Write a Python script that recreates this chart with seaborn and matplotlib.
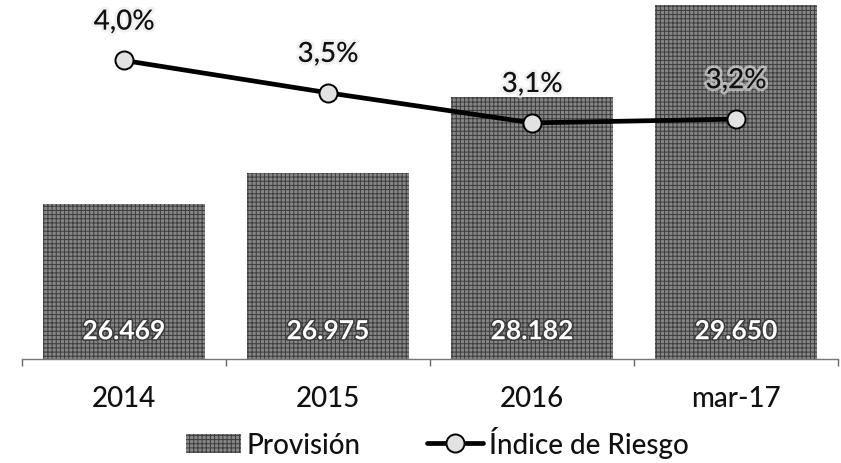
import numpy as np
import pandas as pd
import matplotlib
matplotlib.use("Agg")
import matplotlib.pyplot as plt
import matplotlib.patheffects as pe
from matplotlib.patches import Patch
from matplotlib.lines import Line2D
import seaborn as sns

# Data
categories = ["2014", "2015", "2016", "mar-17"]
provision = [26469, 26975, 28182, 29650]
indice_riesgo = [3.97, 3.54, 3.14, 3.19]

sns.set_theme(style="white")
plt.rcParams["font.family"] = ["Lato", "DejaVu Sans"]
plt.rcParams["hatch.linewidth"] = 0.7

BAR_FACE = "#868686"
BAR_HATCH = "#3c3c3c"

fig = plt.figure(figsize=(8.41, 4.64), dpi=100)
# axes extends slightly above the canvas so the top of the scale is cut off
ax = fig.add_axes([22 / 841, 104 / 464, 816 / 841, 376 / 464])

df = pd.DataFrame({"cat": categories, "prov": provision})
sns.barplot(data=df, x="cat", y="prov", order=categories, ax=ax,
            color=BAR_FACE, width=0.79, saturation=1)
for bar in ax.patches:
    bar.set_facecolor(BAR_FACE)
    bar.set_edgecolor(BAR_HATCH)
    bar.set_hatch("++++")
    bar.set_linewidth(0)

ax.set_ylim(24000, 30000)
ax.set_xlim(-0.5, len(categories) - 0.5)
ax.set_xlabel("")
ax.set_ylabel("")
ax.set_yticks([])
for s in ["top", "left", "right"]:
    ax.spines[s].set_visible(False)
ax.spines["bottom"].set_color("#777777")
ax.spines["bottom"].set_linewidth(1.0)

ax.tick_params(axis="x", which="major", length=0, pad=19, labelsize=20,
               labelcolor="#111111")
ax.set_xticks(list(np.arange(len(categories)) - 0.5) + [len(categories) - 0.5],
              minor=True)
ax.tick_params(axis="x", which="minor", length=5, width=1, color="#666666",
               direction="out", bottom=True)
for lbl in ax.get_xticklabels():
    lbl.set_fontweight("medium")

# value labels inside bars
for i, v in enumerate(provision):
    ax.annotate(f"{v:,}".replace(",", "."), xy=(i, 24000), xytext=(0, 20),
                textcoords="offset points", ha="center", va="center",
                fontsize=19, fontweight="bold", color="white",
                path_effects=[pe.withStroke(linewidth=2.2, foreground="#3a3a3a")])

# risk index line on secondary axis
ax2 = ax.twinx()
sns.lineplot(x=np.arange(len(categories)), y=indice_riesgo, ax=ax2,
             color="black", linewidth=3.4, marker="o", markersize=13,
             markerfacecolor="#e2e2e2", markeredgecolor="black",
             markeredgewidth=1.4, zorder=5)
ax2.set_ylim(0, 5)
ax2.set_yticks([])
for s in ["top", "left", "right", "bottom"]:
    ax2.spines[s].set_visible(False)

for i, v in enumerate(indice_riesgo):
    ax2.annotate(f"{v:.1f}%".replace(".", ","), xy=(i, v), xytext=(0, 28),
                 textcoords="offset points", ha="center", va="center",
                 fontsize=20, fontweight="medium", color="#111111",
                 path_effects=[pe.withStroke(linewidth=4, foreground="#e8e8e8", alpha=0.6)])

handles = [
    Patch(facecolor=BAR_FACE, edgecolor=BAR_HATCH, hatch="++++", linewidth=0),
    Line2D([0], [0], color="black", linewidth=3.4, marker="o", markersize=13,
           markerfacecolor="#e2e2e2", markeredgecolor="black", markeredgewidth=1.4),
]
leg = fig.legend(handles, ["Provisión", "Índice de Riesgo"], loc="center",
                 bbox_to_anchor=(437 / 841, 1 - 443 / 464), ncol=2, frameon=False,
                 fontsize=20, handlelength=2.0, handletextpad=0.2, columnspacing=2.4,
                 borderpad=0, labelcolor="#111111")
for t in leg.get_texts():
    t.set_fontweight("medium")

fig.savefig("out.png", dpi=100)
